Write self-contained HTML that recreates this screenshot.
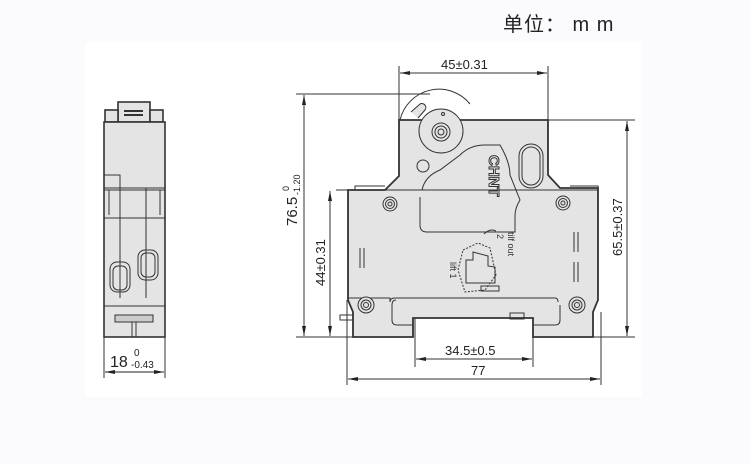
<!DOCTYPE html>
<html><head><meta charset="utf-8"><style>
html,body{margin:0;padding:0;background:#fbfafd;}
svg{display:block}
text{font-family:"Liberation Sans","Noto Sans CJK SC",sans-serif;}
</style></head><body>
<svg width="750" height="464" viewBox="0 0 750 464" xmlns="http://www.w3.org/2000/svg">
<defs>
<marker id="a" markerWidth="10" markerHeight="6" refX="10" refY="3" orient="auto" markerUnits="userSpaceOnUse"><path d="M0,1 L10,3 L0,5 Z" fill="#222"/></marker>
<marker id="b" markerWidth="10" markerHeight="6" refX="0" refY="3" orient="auto" markerUnits="userSpaceOnUse"><path d="M10,1 L0,3 L10,5 Z" fill="#222"/></marker>
</defs>
<rect x="85" y="42" width="557" height="355" fill="#fff"/>
<text x="503" y="31" font-size="20" fill="#222" letter-spacing="1">单位： m m</text>

<!-- side view -->
<g fill="#e4e4e4" stroke="#333" stroke-width="1.6">
<rect x="118" y="102" width="32" height="20"/>
<rect x="105" y="110" width="13" height="12"/>
<rect x="150" y="110" width="13" height="12"/>
<rect x="104" y="122" width="61" height="215"/>
</g>
<g stroke="#333" fill="none" stroke-width="1">
<line x1="124" y1="111" x2="143" y2="111" stroke-width="2"/>
<line x1="124" y1="115" x2="143" y2="115" stroke-width="2"/>
<path d="M104 175 H120 V298 M104 188 H165 M104 190 H165 M146 188 V298 M104 218 H165"/>
<line x1="109" y1="190" x2="109" y2="215"/><line x1="160" y1="190" x2="160" y2="215"/>
<rect x="110" y="262" width="20" height="30" rx="7"/>
<rect x="113" y="266" width="14" height="24" rx="5"/>
<rect x="138" y="250" width="20" height="30" rx="7"/>
<rect x="141" y="253" width="14" height="24" rx="5"/>
<path d="M104 306 H165"/>
<rect x="115" y="315" width="38" height="7" fill="#ccc"/>
<path d="M132 322 V337 M136 322 V337"/>
<path d="M104 337 V378 M165 337 V378"/>
<line x1="105" y1="372" x2="164" y2="372" marker-start="url(#b)" marker-end="url(#a)" stroke="#222"/>
</g>
<text x="110" y="367" font-size="16" fill="#222">18</text>
<text x="134" y="356" font-size="10" fill="#222">0</text>
<text x="131" y="368" font-size="10" fill="#222">-0.43</text>

<!-- main view -->
<g fill="#e4e4e4" stroke="#333" stroke-width="1.8">
<path d="M399 120 H548 V175 L560 188 H598 V300 L593 312 V337 H533 V318 H413 V337 H353 V312 L348 300 V190 H385 L399 176 Z"/>
</g>
<g stroke="#333" fill="none" stroke-width="1">
<path d="M355 190 V186 H385 M598 190 V186 H570"/>
<path d="M400 120 A40 40 0 0 1 470 104" />
<path d="M411 112 L420 104 A4 4 0 0 1 425 110 L418 118" fill="#e4e4e4"/>
<circle cx="441" cy="131" r="22" fill="#e4e4e4"/>
<circle cx="441" cy="132" r="9"/><circle cx="441" cy="132" r="6"/><circle cx="441" cy="132" r="3"/>
<circle cx="443" cy="114" r="1.5"/>
<circle cx="423" cy="166" r="6"/>
<path d="M420 197 V225 Q420 232 427 232 H515 V216 Q515 208 520 200 L510 175 Q510 162 500 145 H485 Q470 145 460 155 L440 170 Q425 176 422 190"/>
<rect x="519" y="144" width="24" height="44" rx="12"/>
<rect x="522" y="147" width="18" height="38" rx="9"/>
<path d="M348 298 H390 V302 Q390 298 395 298 H555 Q558 298 558 302 M396 300 Q392 300 392 305 V320 Q392 325 397 325 H413"/>
<path d="M533 325 H555 Q560 325 560 320 V305"/>
<rect x="510" y="313" width="14" height="6"/>
<rect x="340" y="315" width="13" height="5"/>
<path d="M360 248 V268 M364 248 V268 M574 232 V252 M578 232 V252 M574 262 V282 M578 262 V282"/>
<path d="M463 250 L478 243 L490 248 L496 275 L485 290 L465 292 L458 270 Z" stroke-dasharray="2 1.5"/>
<path d="M466 260 H473 V252 L488 256 V266 L495 267 V283 H466 Z"/>
<rect x="481" y="286" width="18" height="5"/>
<path d="M496 231 Q490 228 484 234"/>
</g>
<g fill="#e4e4e4" stroke="#333" stroke-width="1">
<circle cx="390" cy="204" r="7"/><circle cx="390" cy="204" r="4.5"/><circle cx="390" cy="204" r="2"/>
<circle cx="563" cy="203" r="7"/><circle cx="563" cy="203" r="4.5"/><circle cx="563" cy="203" r="2"/>
<circle cx="366" cy="305" r="8"/><circle cx="366" cy="305" r="5"/><circle cx="366" cy="305" r="2.5"/>
<circle cx="577" cy="305" r="8"/><circle cx="577" cy="305" r="5"/><circle cx="577" cy="305" r="2.5"/>
</g>
<text x="0" y="0" font-size="15" font-weight="bold" fill="#e4e4e4" stroke="#333" stroke-width="1" transform="translate(489,155) rotate(90)">CHNT</text>
<text x="0" y="0" font-size="9" fill="#333" transform="translate(508,232) rotate(90)">tilf out</text>
<text x="0" y="0" font-size="9" fill="#333" transform="translate(497,234) rotate(90)">2</text>
<text x="0" y="0" font-size="9" fill="#333" transform="translate(450,262) rotate(90)">lift 1</text>

<!-- dimension lines -->
<g stroke="#333" stroke-width="1" fill="none">
<path d="M399 66 V120 M548 66 V120"/>
<line x1="400" y1="73" x2="547" y2="73" marker-start="url(#b)" marker-end="url(#a)"/>
<path d="M296 94 H430 M548 120 H635 M598 190 H336 M296 337 H353 M593 337 H635 M347 300 V385 M601 312 V385 M415 318 V367 M533 318 V367"/>
<line x1="304" y1="95" x2="304" y2="336" marker-start="url(#b)" marker-end="url(#a)"/>
<line x1="330" y1="191" x2="330" y2="336" marker-start="url(#b)" marker-end="url(#a)"/>
<line x1="627" y1="121" x2="627" y2="336" marker-start="url(#b)" marker-end="url(#a)"/>
<line x1="416" y1="359" x2="532" y2="359" marker-start="url(#b)" marker-end="url(#a)"/>
<line x1="348" y1="379" x2="600" y2="379" marker-start="url(#b)" marker-end="url(#a)"/>
</g>
<text x="441" y="69" font-size="13" fill="#222">45±0.31</text>
<text x="445" y="355" font-size="13" fill="#222">34.5±0.5</text>
<text x="471" y="375" font-size="13" fill="#222">77</text>
<text x="0" y="0" font-size="15" fill="#222" transform="translate(297,226) rotate(-90)">76.5</text>
<text x="0" y="0" font-size="9" fill="#222" transform="translate(289,191) rotate(-90)">0</text>
<text x="0" y="0" font-size="9" fill="#222" transform="translate(300,195) rotate(-90)">-1.20</text>
<text x="0" y="0" font-size="13" fill="#222" transform="translate(325,286) rotate(-90)">44±0.31</text>
<text x="0" y="0" font-size="13" fill="#222" transform="translate(622,256) rotate(-90)">65.5±0.37</text>
</svg>
</body></html>
